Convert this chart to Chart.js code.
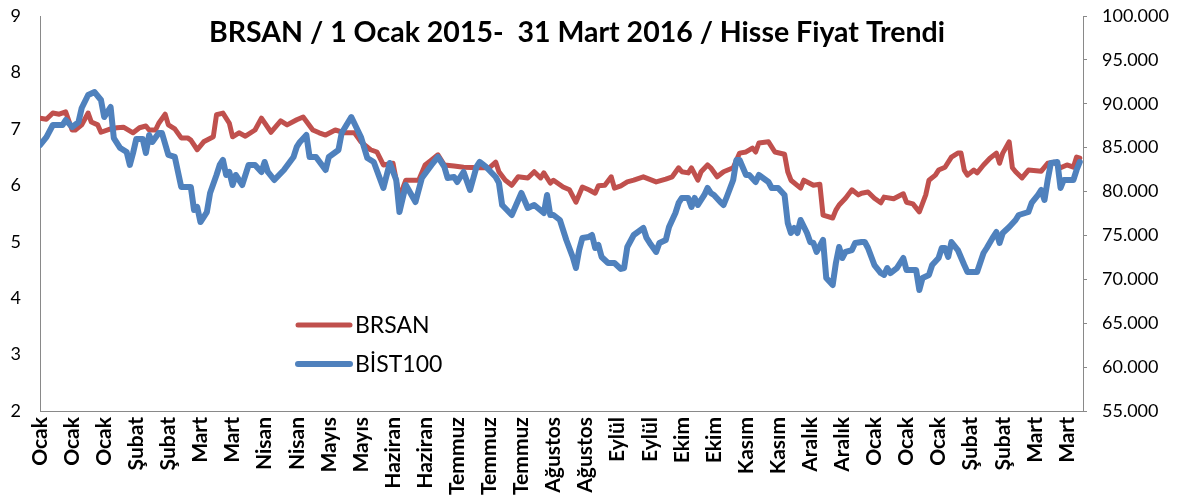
<!DOCTYPE html>
<html>
<head>
<meta charset="utf-8">
<script src="https://cdn.jsdelivr.net/npm/chart.js@4/dist/chart.umd.min.js"></script>
<style>
html,body{margin:0;padding:0;background:#fff;}
#c{display:block;}
</style>
</head>
<body>
<canvas id="c" width="1187" height="497"></canvas>
<script>
// ---- DATA ----
const titleText = 'BRSAN / 1 Ocak 2015-  31 Mart 2016 / Hisse Fiyat Trendi';
const tickLabels = ['Ocak','Ocak','Ocak','Şubat','Şubat','Mart','Mart','Nisan','Nisan','Mayıs','Mayıs','Haziran','Haziran','Temmuz','Temmuz','Temmuz','Ağustos','Ağustos','Eylül','Eylül','Ekim','Ekim','Kasım','Kasım','Aralık','Aralık','Ocak','Ocak','Ocak','Şubat','Şubat','Mart','Mart'];
const tickDays = [0,10,20,30,40,50,60,70,80,90,100,110,120,130,140,150,160,170,180,190,200,210,220,230,240,250,260,270,280,290,300,310,320];
const seriesNames = ['BRSAN','BİST100'];

// BRSAN (left axis), sampled by trading-day index
const brsanDays = [0,2,4,6,8,10,11,13,15,16,18,19,22,24,26,29,31,33,34,36,37,39,40,42,44,46,47,49,51,54,55,57,59,60,62,64,67,69,72,75,77,80,82,85,87,89,92,95,98,100,103,105,107,110,112,114,117,118,120,122,124,126,129,132,137,140,142,143,145,147,149,152,154,156,157,159,160,163,165,167,169,171,173,174,176,178,179,181,183,185,188,192,195,197,199,200,202,203,205,206,208,209,211,213,216,218,220,222,223,224,227,229,232,233,234,237,238,241,243,244,247,248,249,251,253,255,256,258,260,262,263,266,269,270,272,274,276,277,279,280,282,284,286,287,288,289,291,292,294,296,298,299,300,302,303,304,306,308,312,314,316,318,320,322,323,324];
const brsanValues = [7.19,7.17,7.28,7.26,7.30,6.98,6.98,7.07,7.28,7.12,7.07,6.94,7.00,7.02,7.03,6.93,7.02,7.05,6.98,6.98,7.10,7.26,7.07,7.00,6.84,6.84,6.80,6.63,6.77,6.86,7.25,7.28,7.10,6.86,6.93,6.87,6.98,7.19,6.94,7.14,7.07,7.16,7.21,6.98,6.93,6.89,6.98,6.93,6.93,6.77,6.63,6.59,6.36,6.39,5.79,6.09,6.09,6.09,6.36,6.45,6.54,6.36,6.34,6.32,6.31,6.31,6.41,6.24,6.09,6.00,6.15,6.13,6.24,6.13,6.22,6.04,6.09,5.97,5.92,5.70,5.97,5.92,5.86,5.99,6.00,6.15,5.95,5.99,6.06,6.09,6.15,6.06,6.11,6.15,6.31,6.24,6.22,6.31,6.09,6.24,6.36,6.31,6.15,6.24,6.31,6.57,6.59,6.66,6.59,6.75,6.77,6.59,6.55,6.24,6.09,5.95,6.09,6.00,6.02,5.47,5.42,5.56,5.65,5.77,5.92,5.83,5.86,5.88,5.77,5.69,5.79,5.76,5.85,5.70,5.67,5.53,5.83,6.09,6.18,6.27,6.32,6.50,6.57,6.57,6.27,6.18,6.27,6.22,6.36,6.48,6.57,6.39,6.57,6.77,6.31,6.24,6.13,6.27,6.25,6.39,6.41,6.31,6.36,6.32,6.50,6.48];

// BIST100 (right axis), sampled by trading-day index
const bistDays = [0,2,4,7,8,10,12,13,15,17,19,20,21,22,23,25,27,28,29,30,32,33,34,35,37,38,40,42,44,47,48,49,50,52,53,55,56,57,58,59,60,61,63,65,67,69,70,71,73,76,79,80,81,83,84,86,89,90,93,94,97,100,102,104,107,109,111,112,114,117,119,122,124,126,127,129,130,132,134,136,137,139,142,143,144,147,150,152,154,157,158,159,160,162,164,166,167,168,169,171,172,173,174,175,177,179,181,182,183,185,188,189,190,192,193,195,196,198,199,200,202,203,204,205,207,208,209,210,212,213,214,216,217,218,220,221,223,224,227,228,230,232,233,234,235,236,237,239,240,241,242,244,245,247,248,249,250,251,253,254,256,257,258,260,262,263,264,265,267,269,270,273,274,275,277,278,280,281,282,283,284,286,288,289,292,294,295,297,298,299,300,302,304,305,308,309,311,312,313,314,315,317,318,319,322,323,324];
const bistValues = [85300,86200,87580,87580,88150,87350,87920,89520,91000,91340,90430,88490,89060,89630,86100,84960,84500,83030,84390,85990,85990,84390,86440,85650,86670,86670,84170,83940,80520,80520,77900,78240,76530,77670,79840,81890,83030,83600,81890,82230,80750,81890,80750,83030,83030,82230,83370,82230,81320,82460,83940,85080,85650,86440,83940,83940,82460,83940,84730,86670,88490,86220,83820,83370,80410,83250,81320,77670,80750,78810,81540,83030,83940,82800,81540,81660,81090,82230,80180,82800,83370,82800,81660,80980,78470,77330,79840,78130,78470,77560,79610,77330,77330,76760,74480,72550,71290,73340,74710,74830,75050,73570,73910,72550,71860,71860,71180,71290,73680,75050,75850,74710,74140,73120,74140,74480,75960,77560,78700,79270,79270,78240,79270,78470,79610,80410,79840,79610,78810,78470,79380,81320,83600,83600,81890,81890,81090,81890,81090,80410,80410,79610,76420,75280,75850,75280,76760,75280,74250,74140,73120,74480,70150,69360,71860,73680,72430,73120,73340,74140,74250,74250,73570,71630,70720,70500,71290,70720,71290,72430,71060,71060,68790,70150,70500,71630,72430,73570,73570,72550,74250,73340,71630,70840,70840,73000,73570,74820,75390,74140,75280,75960,76760,77330,77670,78700,79610,80180,79040,81320,83250,83370,80410,81320,81320,82460,83370];

// ---- CHART ----
const RED = '#C0504D';
const BLUE = '#4F81BD';
const AXIS = '#898989';
const FONT = 'Lato';

function fmtThousands(v){
  return String(v).replace(/\B(?=(\d{3})+(?!\d))/g, '.');
}

const titlePlugin = {
  id: 'excelTitle',
  afterDraw(chart){
    const ctx = chart.ctx;
    ctx.save();
    ctx.fillStyle = '#000';
    ctx.font = 'bold 28.5px ' + FONT;
    ctx.textAlign = 'center';
    ctx.textBaseline = 'middle';
    ctx.fillText(titleText, 577, 33);
    ctx.restore();
  }
};

const legendPlugin = {
  id: 'excelLegend',
  afterDraw(chart){
    const ctx = chart.ctx;
    const items = [
      {text: seriesNames[0], color: RED, y: 325, w: 5},
      {text: seriesNames[1], color: BLUE, y: 364, w: 6}
    ];
    ctx.save();
    items.forEach(it => {
      ctx.strokeStyle = it.color;
      ctx.lineWidth = it.w;
      ctx.lineCap = 'round';
      ctx.beginPath();
      ctx.moveTo(298, it.y);
      ctx.lineTo(350, it.y);
      ctx.stroke();
      ctx.fillStyle = '#000';
      ctx.font = '23px ' + FONT;
      ctx.textAlign = 'left';
      ctx.textBaseline = 'middle';
      ctx.fillText(it.text, 355, it.y + 1);
    });
    ctx.restore();
  }
};

function noEdgePadding(s){
  s.paddingTop = 0;
  s.paddingBottom = 0;
}

function build(){
  const ctx = document.getElementById('c').getContext('2d');
  new Chart(ctx, {
    type: 'line',
    data: {
      datasets: [
        {
          label: seriesNames[1],
          data: bistDays.map((d, i) => ({x: d, y: bistValues[i]})),
          yAxisID: 'y2',
          borderColor: BLUE,
          borderWidth: 6,
          pointRadius: 0,
          tension: 0,
          borderJoinStyle: 'round',
          borderCapStyle: 'round',
          fill: false
        },
        {
          label: seriesNames[0],
          data: brsanDays.map((d, i) => ({x: d, y: brsanValues[i]})),
          yAxisID: 'y',
          borderColor: RED,
          borderWidth: 5,
          pointRadius: 0,
          tension: 0,
          borderJoinStyle: 'round',
          borderCapStyle: 'round',
          fill: false
        }
      ]
    },
    options: {
      responsive: false,
      animation: false,
      devicePixelRatio: 1,
      layout: {padding: {top: 16, left: 0, right: 0, bottom: 0}},
      plugins: {
        legend: {display: false},
        title: {display: false},
        tooltip: {enabled: false}
      },
      scales: {
        x: {
          type: 'linear',
          min: 0,
          max: 325,
          afterBuildTicks: s => { s.ticks = tickDays.map(v => ({value: v})); },
          afterFit: s => { s.height = 86; },
          grid: {display: false, drawTicks: false},
          border: {display: true, color: AXIS, width: 1},
          ticks: {
            autoSkip: false,
            maxRotation: 90,
            minRotation: 90,
            padding: 6,
            color: '#000',
            font: {family: FONT, weight: 'bold', size: 21},
            callback: v => { const k = tickDays.indexOf(v); return k >= 0 ? tickLabels[k] : ''; }
          }
        },
        y: {
          position: 'left',
          min: 2,
          max: 9,
          afterFit: s => { s.width = 40; noEdgePadding(s); },
          grid: {display: false, drawTicks: false},
          border: {display: true, color: AXIS, width: 1},
          ticks: {
            stepSize: 1,
            padding: 19,
            color: '#000',
            font: {family: FONT, size: 18}
          }
        },
        y2: {
          position: 'right',
          min: 55000,
          max: 100000,
          afterFit: s => { s.width = 104; noEdgePadding(s); },
          grid: {display: true, drawOnChartArea: false, drawTicks: true, tickLength: 4, color: AXIS},
          border: {display: true, color: AXIS, width: 1},
          ticks: {
            stepSize: 5000,
            padding: 15,
            color: '#000',
            font: {family: FONT, size: 18},
            callback: v => fmtThousands(v)
          }
        }
      }
    },
    plugins: [titlePlugin, legendPlugin]
  });
}

Promise.all([
  document.fonts.load('18px Lato'),
  document.fonts.load('bold 21px Lato'),
  document.fonts.load('bold 28px Lato')
]).then(build, build);
</script>
</body>
</html>
